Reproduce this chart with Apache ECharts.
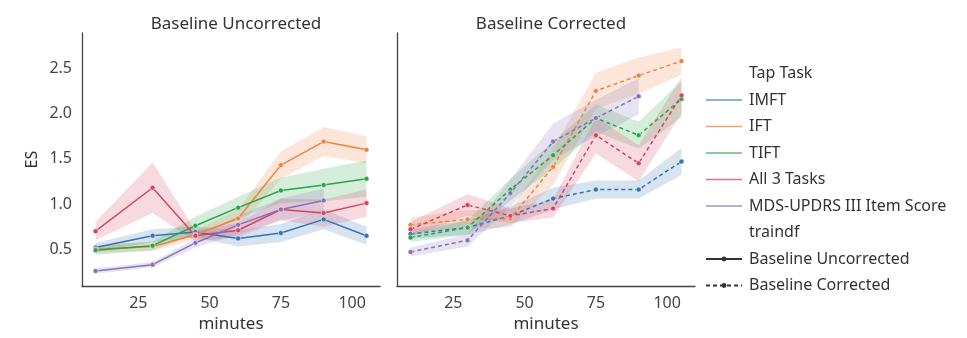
<!DOCTYPE html>
<html>
<head>
<meta charset="utf-8">
<script src="https://cdn.jsdelivr.net/npm/echarts@6/dist/echarts.min.js"></script>
<style>
  html, body { margin: 0; padding: 0; background: #fff; }
  #chart { width: 967px; height: 338px; }
</style>
</head>
<body>
<div id="chart"></div>
<script>
const minutes = [10, 30, 45, 60, 75, 90, 105];
const tasks = ['IMFT', 'IFT', 'TIFT', 'All 3 Tasks', 'MDS-UPDRS III Item Score'];
const colors = ['#3574b4', '#ee8244', '#2da34d', '#d6455d', '#8672b6'];

// Baseline Uncorrected (left panel)
const uncIMFT = [0.52, 0.65, 0.69, 0.62, 0.68, 0.83, 0.65];
const uncIFT  = [0.50, 0.53, 0.66, 0.84, 1.43, 1.69, 1.60];
const uncTIFT = [0.49, 0.54, 0.76, 0.96, 1.15, 1.21, 1.28];
const uncAll3 = [0.70, 1.18, 0.65, 0.71, 0.94, 0.90, 1.01];
const uncMDS  = [0.26, 0.33, 0.57, 0.77, 0.94, 1.04];
// confidence band half widths
const uncIMFTci = [0.05, 0.07, 0.06, 0.09, 0.10, 0.11, 0.10];
const uncIFTci  = [0.04, 0.05, 0.05, 0.10, 0.15, 0.16, 0.15];
const uncTIFTci = [0.05, 0.05, 0.10, 0.12, 0.14, 0.18, 0.20];
const uncAll3ci = [0.10, 0.28, 0.06, 0.08, 0.12, 0.15, 0.15];
const uncMDSci  = [0.03, 0.03, 0.05, 0.10, 0.12, 0.13];

// Baseline Corrected (right panel)
const corIMFT = [0.67, 0.74, 0.87, 1.06, 1.16, 1.16, 1.47];
const corIFT  = [0.77, 0.83, 0.84, 1.41, 2.25, 2.42, 2.58];
const corTIFT = [0.63, 0.74, 1.16, 1.54, 1.95, 1.76, 2.16];
const corAll3 = [0.72, 0.99, 0.87, 0.95, 1.76, 1.45, 2.20];
const corMDS  = [0.47, 0.60, 1.12, 1.69, 1.95, 2.19];
const corIMFTci = [0.05, 0.08, 0.10, 0.12, 0.10, 0.10, 0.15];
const corIFTci  = [0.08, 0.10, 0.10, 0.20, 0.20, 0.20, 0.15];
const corTIFTci = [0.05, 0.08, 0.12, 0.15, 0.15, 0.15, 0.20];
const corAll3ci = [0.08, 0.12, 0.08, 0.10, 0.20, 0.20, 0.20];
const corMDSci  = [0.05, 0.07, 0.15, 0.20, 0.20, 0.20];

const yTicks = [0.5, 1.0, 1.5, 2.0, 2.5];
const xTicks = [25, 50, 75, 100];

const FONT = 'Noto Sans';
const LINE_ICON = 'path://M0,0h36v1.6h-36z';

const panels = [
  { vals: [uncIMFT, uncIFT, uncTIFT, uncAll3, uncMDS], ci: [uncIMFTci, uncIFTci, uncTIFTci, uncAll3ci, uncMDSci], dash: 'solid' },
  { vals: [corIMFT, corIFT, corTIFT, corAll3, corMDS], ci: [corIMFTci, corIFTci, corTIFTci, corAll3ci, corMDSci], dash: [4, 3] }
];

function rgba(hex, a) {
  const n = parseInt(hex.slice(1), 16);
  return `rgba(${(n >> 16) & 255},${(n >> 8) & 255},${n & 255},${a})`;
}

const bandSeries = [];
const lineSeries = [];
panels.forEach((p, pi) => {
  p.vals.forEach((vals, ti) => {
    const ci = p.ci[ti];
    const band = vals.map((v, i) => [minutes[i], v - ci[i], v + ci[i]]);
    // confidence band drawn as one polygon through the axis scales
    bandSeries.push({
      type: 'custom', name: `${tasks[ti]} band`, xAxisIndex: pi, yAxisIndex: pi,
      silent: true, z: 1,
      encode: { x: 0, y: [1, 2] },
      data: band,
      renderItem: (params, api) => {
        if (params.dataIndex !== 0) return;
        const upper = band.map(d => api.coord([d[0], d[2]]));
        const lower = band.map(d => api.coord([d[0], d[1]])).reverse();
        return {
          type: 'polygon',
          shape: { points: upper.concat(lower) },
          style: { fill: rgba(colors[ti], 0.2) }
        };
      }
    });
    lineSeries.push({
      type: 'line', name: tasks[ti], xAxisIndex: pi, yAxisIndex: pi,
      symbol: 'circle', symbolSize: 5, z: 5,
      itemStyle: { color: colors[ti], borderColor: '#fff', borderWidth: 0.5 },
      lineStyle: { color: colors[ti], width: 1.5, type: p.dash },
      data: vals.map((v, i) => [minutes[i], v])
    });
  });
});

// legend-only series
const legendSeries = [
  { type: 'line', name: 'Tap Task', data: [] },
  { type: 'line', name: 'traindf', data: [] },
  { type: 'line', name: 'Baseline Uncorrected', data: [], symbol: 'circle',
    itemStyle: { color: '#333' }, lineStyle: { color: '#333', width: 1.5 } },
  { type: 'line', name: 'Baseline Corrected', data: [], symbol: 'circle',
    itemStyle: { color: '#333' }, lineStyle: { color: '#333', width: 1.5, type: [4, 3] } }
];

const grids = [
  { left: 82, top: 33, width: 298, height: 258 },
  { left: 397, top: 33, width: 298, height: 258 }
];

const axisLine = { show: true, lineStyle: { color: '#444', width: 1.3 } };
const labelStyle = { color: '#444', fontFamily: FONT, fontSize: 16 };

const xAxes = grids.map((g, i) => ({
  type: 'value', gridIndex: i, min: 5.25, max: 109.75,
  name: 'minutes', nameLocation: 'middle', nameGap: 29,
  nameTextStyle: { color: '#333', fontFamily: FONT, fontSize: 17 },
  axisLine, axisTick: { show: false }, splitLine: { show: false },
  axisLabel: Object.assign({ customValues: xTicks, margin: 9 }, labelStyle)
}));

const yAxes = grids.map((g, i) => ({
  type: 'value', gridIndex: i, min: 0.093, max: 2.89,
  name: i === 0 ? 'ES' : '', nameLocation: 'middle', nameGap: 42,
  nameTextStyle: { color: '#333', fontFamily: FONT, fontSize: 16 },
  axisLine, axisTick: { show: false }, splitLine: { show: false },
  axisLabel: Object.assign({
    show: i === 0, customValues: yTicks, margin: 10,
    formatter: v => v.toFixed(1)
  }, labelStyle)
}));

const legendData = [{ name: 'Tap Task', icon: 'none' }]
  .concat(tasks.map((t, i) => ({
    name: t, icon: LINE_ICON,
    itemStyle: { color: rgba(colors[i], 0.75), borderWidth: 0 }
  })))
  .concat([{ name: 'traindf', icon: 'none' }, { name: 'Baseline Uncorrected' }, { name: 'Baseline Corrected' }]);

const chart = echarts.init(document.getElementById('chart'), null, { renderer: 'canvas' });
chart.setOption({
  animation: false,
  backgroundColor: '#fff',
  title: [
    { text: 'Baseline Uncorrected', left: 231, top: 11, textAlign: 'center',
      textStyle: { color: '#333', fontFamily: FONT, fontSize: 17, fontWeight: 'normal' } },
    { text: 'Baseline Corrected', left: 546, top: 11, textAlign: 'center',
      textStyle: { color: '#333', fontFamily: FONT, fontSize: 17, fontWeight: 'normal' } }
  ],
  legend: {
    orient: 'vertical', left: 700, top: 60,
    itemWidth: 36, itemHeight: 6, itemGap: 9.5,
    selectedMode: false,
    textStyle: { color: '#333', fontFamily: FONT, fontSize: 16, lineHeight: 17, padding: [0, 0, 0, 2] },
    data: legendData
  },
  grid: grids,
  xAxis: xAxes,
  yAxis: yAxes,
  series: bandSeries.concat(lineSeries, legendSeries)
});
</script>
</body>
</html>
